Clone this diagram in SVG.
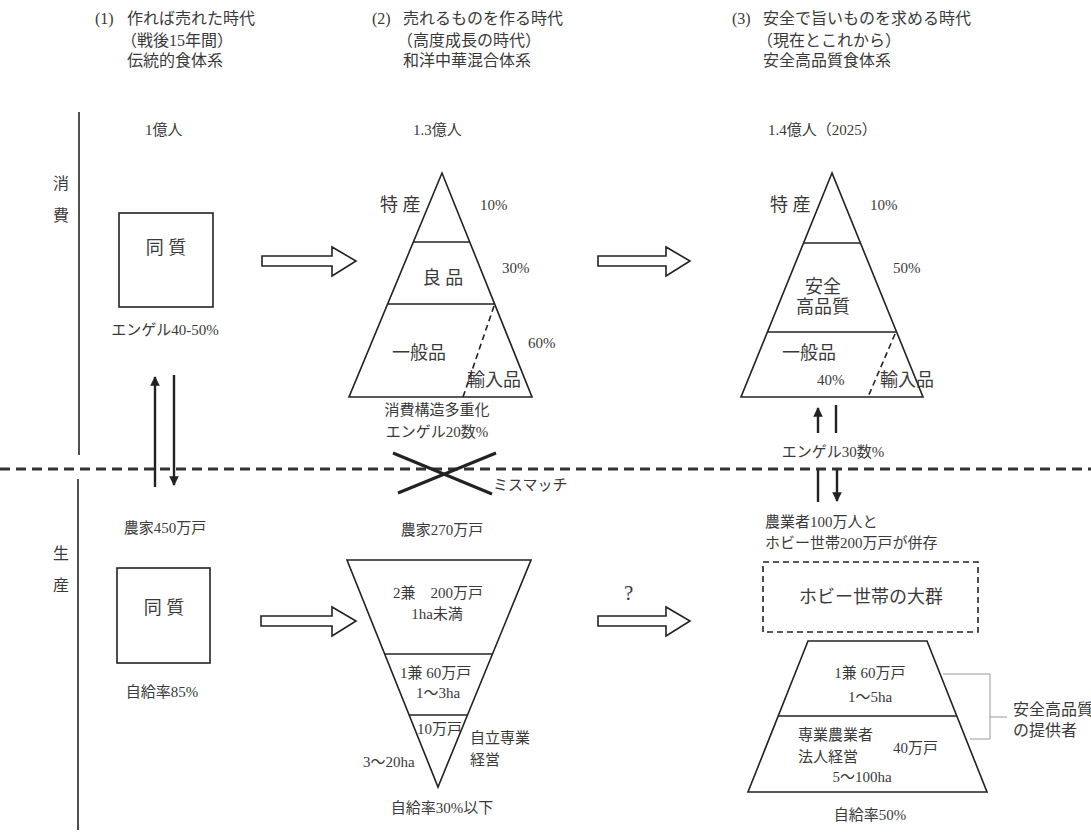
<svg xmlns="http://www.w3.org/2000/svg" width="1091" height="833" viewBox="0 0 1091 833">
<defs>
<style>
text{font-family:"Liberation Serif","Noto Sans CJK JP",serif;fill:#3a3a3a;font-size:15px}
.h{font-size:16px}
.m{text-anchor:middle}
.big{font-size:18px}
.ln{fill:none;stroke:#222;stroke-width:1.6}
.hollow{fill:#fff;stroke:#222;stroke-width:1.6}
.dash{fill:none;stroke:#222;stroke-width:1.6;stroke-dasharray:6 4}
.sep{fill:none;stroke:#333;stroke-width:3;stroke-dasharray:10 6}
.arr{fill:none;stroke:#222;stroke-width:2.4}
.br{fill:none;stroke:#999;stroke-width:1}
</style>
<marker id="ah" viewBox="0 0 10 10" refX="9" refY="5" markerWidth="4" markerHeight="4.5" orient="auto-start-reverse" markerUnits="strokeWidth">
<path d="M0,0 L10,5 L0,10 Z" fill="#222"/>
</marker>
</defs>
<rect width="1091" height="833" fill="#fff"/>

<g id="headers">
<text class="h" x="95" y="24">(1)</text>
<text class="h" x="127" y="24">作れば売れた時代</text>
<text class="h" x="121" y="46">（戦後15年間）</text>
<text class="h" x="127" y="66">伝統的食体系</text>
<text class="h" x="372" y="24">(2)</text>
<text class="h" x="403" y="24">売れるものを作る時代</text>
<text class="h" x="397" y="46">（高度成長の時代）</text>
<text class="h" x="403" y="66">和洋中華混合体系</text>
<text class="h" x="732" y="24">(3)</text>
<text class="h" x="763" y="24">安全で旨いものを求める時代</text>
<text class="h" x="757" y="46">（現在とこれから）</text>
<text class="h" x="763" y="66">安全高品質食体系</text>
<text x="145" y="135">1億人</text>
<text x="413" y="135">1.3億人</text>
<text x="768" y="135">1.4億人（2025）</text>
</g>

<g id="axis">
<line class="ln" x1="79" y1="112" x2="79" y2="455"/>
<line class="ln" x1="78" y1="479" x2="78" y2="830"/>
<text class="h" x="53" y="189">消</text>
<text class="h" x="53" y="221">費</text>
<text class="h" x="53" y="559">生</text>
<text class="h" x="53" y="591">産</text>
<line class="sep" x1="0" y1="469" x2="1091" y2="469"/>
</g>

<g id="cons1">
<rect class="ln" x="119" y="213" width="94" height="94"/>
<text class="m big" x="166" y="254">同 質</text>
<text class="m" x="165" y="335">エンゲル40-50%</text>
</g>

<g id="cons2">
<polygon class="ln" points="442,173 349,397 532,397"/>
<line class="ln" x1="413" y1="242" x2="470" y2="242"/>
<line class="ln" x1="388" y1="304" x2="495" y2="304"/>
<line class="dash" x1="494" y1="306" x2="463" y2="397"/>
<text class="big" x="380" y="211">特 産</text>
<text x="480" y="210">10%</text>
<text class="m big" x="443" y="284">良 品</text>
<text x="502" y="273">30%</text>
<text class="big" x="392" y="359">一般品</text>
<text x="528" y="348">60%</text>
<text class="big" x="467" y="386">輸入品</text>
<text class="m" x="437" y="415">消費構造多重化</text>
<text class="m" x="437" y="437">エンゲル20数%</text>
</g>

<g id="cons3">
<polygon class="ln" points="832,173 741,397 923,397"/>
<line class="ln" x1="804" y1="243" x2="860" y2="243"/>
<line class="ln" x1="768" y1="332" x2="896" y2="332"/>
<line class="dash" x1="895" y1="334" x2="868" y2="397"/>
<text class="big" x="770" y="211">特 産</text>
<text x="870" y="210">10%</text>
<text x="893" y="273">50%</text>
<text class="m big" x="823" y="293">安全</text>
<text class="m big" x="823" y="313">高品質</text>
<text class="big" x="782" y="359">一般品</text>
<text x="817" y="385">40%</text>
<text class="big" x="880" y="386">輸入品</text>
<text class="m" x="833" y="457">エンゲル30数%</text>
</g>

<g id="prod1">
<text class="m" x="165" y="533">農家450万戸</text>
<rect class="ln" x="117" y="568" width="93" height="95"/>
<text class="m big" x="164" y="614">同 質</text>
<text class="m" x="162" y="697">自給率85%</text>
</g>

<g id="prod2">
<text class="m" x="442" y="535">農家270万戸</text>
<polygon class="ln" points="347,560 531,560 438,787"/>
<line class="ln" x1="385" y1="654" x2="493" y2="654"/>
<line class="ln" x1="409" y1="715" x2="467" y2="715"/>
<text x="393" y="598">2兼　200万戸</text>
<text class="m" x="437" y="619">1ha未満</text>
<text x="400" y="678">1兼 60万戸</text>
<text class="m" x="438" y="698">1～3ha</text>
<text x="417" y="734">10万戸</text>
<text x="470" y="743">自立専業</text>
<text x="470" y="765">経営</text>
<text x="363" y="767">3～20ha</text>
<text class="m" x="442" y="813">自給率30%以下</text>
</g>

<g id="prod3">
<text x="765" y="527">農業者100万人と</text>
<text x="765" y="548">ホビー世帯200万戸が併存</text>
<rect class="dash" x="763" y="562" width="215" height="70"/>
<text class="m big" x="871" y="603">ホビー世帯の大群</text>
<polygon class="ln" points="808,641 927,641 987,792 748,792"/>
<line class="ln" x1="778" y1="716" x2="957" y2="716"/>
<text class="m" x="870" y="678">1兼 60万戸</text>
<text class="m" x="870" y="702">1～5ha</text>
<text x="798" y="740">専業農業者</text>
<text x="798" y="762">法人経営</text>
<text x="893" y="753">40万戸</text>
<text class="m" x="862" y="782">5～100ha</text>
<text class="m" x="870" y="820">自給率50%</text>
</g>

<g id="provider">
<polyline class="br" points="943,674 990,674 990,739 970,739"/>
<line class="br" x1="990" y1="717" x2="1007" y2="717"/>
<text class="h" x="1013" y="715">安全高品質</text>
<text class="h" x="1013" y="736">の提供者</text>
</g>

<g id="connectors">
<path class="hollow" d="M262,256 H332 V247 L356,261 L332,276 V266 H262 Z"/>
<path class="hollow" d="M598,256 H666 V247 L690,261 L666,276 V266 H598 Z"/>
<path class="hollow" d="M261,616 H332 V607 L356,621 L332,636 V626 H261 Z"/>
<path class="hollow" d="M598,616 H666 V607 L690,621 L666,636 V626 H598 Z"/>
<text x="624" y="600" style="font-size:21px">?</text>
<line class="arr" x1="155" y1="487" x2="155" y2="377" marker-end="url(#ah)"/>
<line class="arr" x1="174" y1="375" x2="174" y2="485" marker-end="url(#ah)"/>
<line class="arr" x1="818" y1="433" x2="818" y2="408" marker-end="url(#ah)"/>
<line class="arr" x1="836" y1="405" x2="836" y2="433"/>
<line class="arr" x1="818" y1="470" x2="818" y2="502"/>
<line class="arr" x1="837" y1="470" x2="837" y2="501" marker-end="url(#ah)"/>
<line x1="393" y1="453" x2="492" y2="494" stroke="#222" stroke-width="3"/>
<line x1="398" y1="493" x2="496" y2="453" stroke="#222" stroke-width="3"/>
<text x="493" y="490">ミスマッチ</text>
</g>
</svg>
